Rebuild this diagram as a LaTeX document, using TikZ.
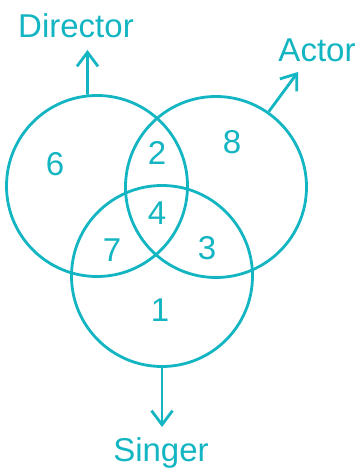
\documentclass[tikz,border=0pt]{standalone}
\usepackage{fontspec}
\setmainfont{Liberation Sans}
\definecolor{myteal}{HTML}{12B5C1}
\usetikzlibrary{arrows.meta, positioning}
\tikzset{
	setnode/.style={
			circle,
			draw=myteal,
			line width=2.8pt,
			minimum size=181pt,
			inner sep=0pt
		},
	numnode/.style={
			text=myteal,
			font=\fontsize{33}{36}\selectfont,
			inner sep=0pt
		},
	labelnode/.style={
			numnode,
			anchor=base
		},
	pointer/.style={
			draw=myteal,
			line width=2.8pt,
			-{Straight Barb[length=14pt,width=21pt]}
		}
}

\begin{document}
\begin{tikzpicture}[x=1pt,y=1pt]
\useasboundingbox (0,0) rectangle (359,473);

\node[setnode] (sD) at (97,287) {};
\node[setnode] (sA) at (216,286) {};
\node[setnode] (sS) at (162,197) {};

\node[numnode] (n6) at (55,309) {6};
\node[numnode] (n2) at (157,320) {2};
\node[numnode] (n8) at (232,331) {8};
\node[numnode] (n4) at (157,260) {4};
\node[numnode] (n7) at (112,223) {7};
\node[numnode] (n3) at (207,225) {3};
\node[numnode] (n1) at (160,163) {1};

\coordinate (tD) at (87.5,423);
\coordinate (tA) at (298,401);
\coordinate (tS) at (162,46);

\node[labelnode] (lD) at (76,435) {Director};
\node[labelnode] (lA) at (317,411) {Actor};
\node[labelnode] (lS) at (161,11) {Singer};

\draw[pointer] (sD.96) -- (tD);
\draw[pointer] (sA.55) -- (tA);
\draw[pointer] (sS.south) -- (tS);

\end{tikzpicture}
\end{document}
